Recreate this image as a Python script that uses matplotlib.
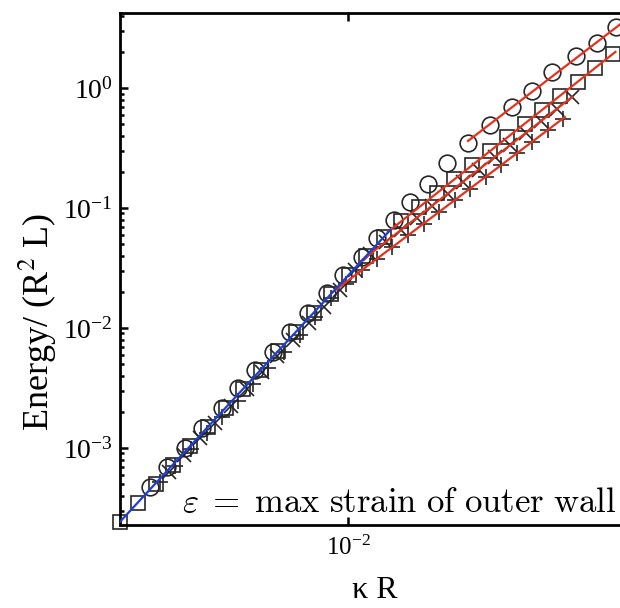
import matplotlib
matplotlib.use('Agg')
import matplotlib.pyplot as plt
from matplotlib.ticker import NullLocator, LogLocator

plt.rcParams['font.family'] = ['Liberation Serif', 'DejaVu Serif']
plt.rcParams['mathtext.fontset'] = 'stix'

# circles
circ_x = [1.28e-3, 1.53e-3, 1.85e-3, 2.20e-3, 2.70e-3, 3.20e-3, 3.81e-3, 4.59e-3, 5.48e-3,
          6.61e-3, 8.04e-3, 9.49e-3, 1.15e-2, 1.35e-2, 1.61e-2, 1.90e-2, 2.29e-2, 2.79e-2,
          3.47e-2, 4.36e-2, 5.48e-2, 6.75e-2, 8.30e-2, 0.1064, 0.1324, 0.161]
circ_y = [4.73e-4, 6.95e-4, 1.00e-3, 1.47e-3, 2.15e-3, 3.16e-3, 4.47e-3, 6.31e-3, 9.26e-3,
          1.33e-2, 1.96e-2, 2.76e-2, 3.90e-2, 5.62e-2, 7.94e-2, 0.112, 0.158, 0.237,
          0.348, 0.492, 0.695, 0.944, 1.36, 1.85, 2.37, 3.22]

# squares
sq_x = [9.39e-4, 1.13e-3, 1.36e-3, 1.63e-3, 1.95e-3, 2.34e-3, 2.81e-3, 3.37e-3, 4.05e-3,
        4.85e-3, 5.83e-3, 7.00e-3, 8.40e-3, 1.01e-2, 1.21e-2, 1.45e-2, 1.74e-2, 2.09e-2,
        2.51e-2, 3.01e-2, 3.62e-2, 4.35e-2, 5.22e-2, 6.26e-2, 7.51e-2, 9.02e-2, 0.108,
        0.130, 0.156]
sq_y = [2.42e-4, 3.48e-4, 5.01e-4, 7.22e-4, 1.04e-3, 1.50e-3, 2.15e-3, 3.10e-3, 4.47e-3,
        6.43e-3, 9.26e-3, 1.33e-2, 1.92e-2, 2.76e-2, 3.98e-2, 5.73e-2, 7.80e-2, 0.102,
        0.133, 0.174, 0.228, 0.299, 0.391, 0.501, 0.656, 0.858, 1.12, 1.47, 1.92]

# crosses (x)
cr_x = [1.56e-3, 1.83e-3, 2.15e-3, 2.53e-3, 2.97e-3, 3.49e-3, 4.10e-3, 4.81e-3, 5.65e-3,
        6.64e-3, 7.80e-3, 9.16e-3, 1.08e-2, 1.26e-2, 1.48e-2, 1.74e-2, 2.05e-2, 2.40e-2,
        2.82e-2, 3.31e-2, 3.89e-2, 4.57e-2, 5.37e-2, 6.31e-2, 7.40e-2, 8.69e-2, 0.102]
cr_y = [6.31e-4, 8.74e-4, 1.20e-3, 1.62e-3, 2.24e-3, 3.10e-3, 4.26e-3, 5.79e-3, 7.94e-3,
        1.10e-2, 1.51e-2, 2.07e-2, 3.04e-2, 4.12e-2, 5.20e-2, 6.56e-2, 8.27e-2, 0.104,
        0.132, 0.166, 0.209, 0.264, 0.332, 0.419, 0.529, 0.667, 0.841]

# plus
pl_x = [1.42e-3, 1.67e-3, 1.96e-3, 2.31e-3, 2.71e-3, 3.18e-3, 3.73e-3, 4.38e-3, 5.15e-3,
        6.05e-3, 7.10e-3, 8.34e-3, 9.79e-3, 1.15e-2, 1.35e-2, 1.58e-2, 1.86e-2, 2.19e-2,
        2.57e-2, 3.02e-2, 3.55e-2, 4.16e-2, 4.89e-2, 5.74e-2, 6.75e-2, 7.92e-2, 9.29e-2]
pl_y = [5.21e-4, 7.08e-4, 9.81e-4, 1.32e-3, 1.81e-3, 2.46e-3, 3.41e-3, 4.60e-3, 6.31e-3,
        8.74e-3, 1.24e-2, 1.78e-2, 2.33e-2, 3.03e-2, 3.79e-2, 4.74e-2, 5.93e-2, 7.41e-2,
        9.28e-2, 0.116, 0.145, 0.182, 0.227, 0.285, 0.356, 0.445, 0.557]

# fitted lines (end points)
blue_x = [9.39e-4, 1.55e-2]
blue_y = [2.42e-4, 6.56e-2]
red_circ_x = [3.47e-2, 0.171]
red_circ_y = [0.362, 3.48]
red_sq_x = [1.51e-2, 0.160]
red_sq_y = [6.31e-2, 2.0]
red_cr_x = [1.13e-2, 0.102]
red_cr_y = [3.55e-2, 0.841]
red_pl_x = [8.56e-3, 9.48e-2]
red_pl_y = [2.0e-2, 0.573]

mk = dict(linestyle='none', mfc='none', mec='#262626', mew=1.2, clip_on=False, zorder=2)

fig = plt.figure(figsize=(6.2, 6.08), dpi=100)
ax = fig.add_axes([120/620, 83/608, 530/620, 512/608])
ax.set_xscale('log')
ax.set_yscale('log')

ax.plot(circ_x, circ_y, marker='o', ms=12, **mk)
ax.plot(sq_x, sq_y, marker='s', ms=10.5, **mk)
ax.plot(cr_x, cr_y, marker='x', ms=9.5, **mk)
ax.plot(pl_x, pl_y, marker='+', ms=12, **mk)

red = '#e5321c'
for xs, ys in [(red_circ_x, red_circ_y), (red_sq_x, red_sq_y),
               (red_cr_x, red_cr_y), (red_pl_x, red_pl_y)]:
    ax.plot(xs, ys, color=red, lw=1.6, zorder=3)
ax.plot(blue_x, blue_y, color='#1d3ed6', lw=1.6, zorder=4)

ax.set_xlim(9.4e-4, 0.229)
ax.set_ylim(2.28e-4, 4.22)
ax.set_xticks([1e-2])
ax.xaxis.set_minor_locator(NullLocator())
ax.yaxis.set_major_locator(LogLocator(base=10, numticks=10))
ax.yaxis.set_minor_locator(LogLocator(base=10, subs=range(2, 10), numticks=10))

ax.tick_params(which='both', direction='in', top=True, right=True, width=1.8)
ax.tick_params(which='major', length=6, pad=5)
ax.tick_params(which='minor', length=3)
ax.tick_params(axis='y', labelsize=20)
ax.tick_params(axis='x', labelsize=18, pad=8)
for s in ax.spines.values():
    s.set_linewidth(2)

ax.set_ylabel('Energy/ (R$^2$ L)', fontsize=26)
ax.yaxis.set_label_coords(-0.116, 0.396)
ax.set_xlabel('κ R', fontsize=23, va='top')
ax.xaxis.set_label_coords(0.481, -0.1)

ax.text(0.117, 0.026, r'$\varepsilon\;=\;\mathrm{max\ strain\ of\ outer\ wall}$',
        transform=ax.transAxes, fontsize=25, math_fontfamily='cm',
        ha='left', va='baseline')

fig.savefig('out.png', dpi=100)
